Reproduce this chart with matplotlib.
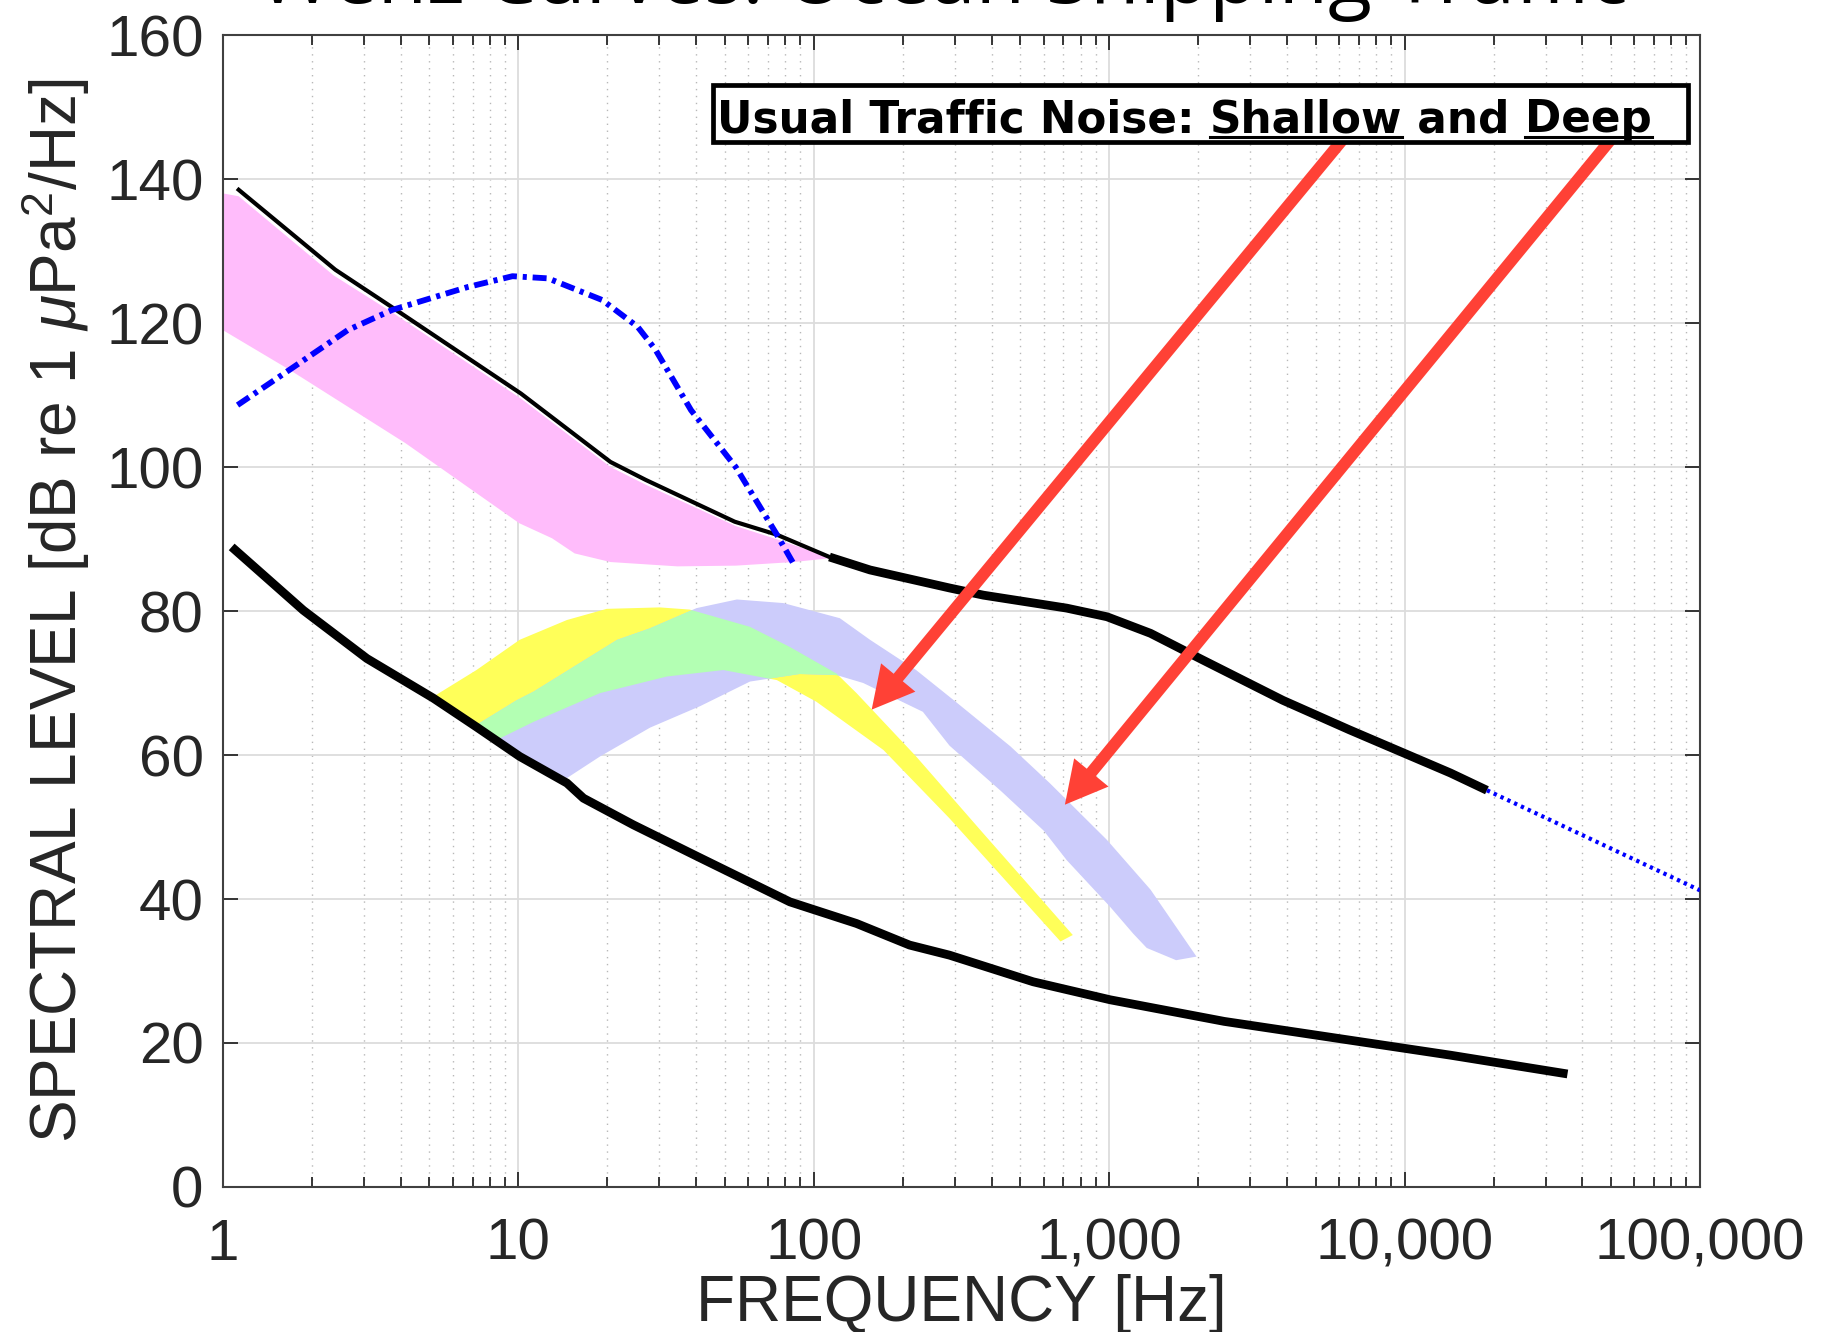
import numpy as np
import matplotlib
matplotlib.use("Agg")
import matplotlib.pyplot as plt
from matplotlib.patches import Polygon, Rectangle
from matplotlib.lines import Line2D
from matplotlib.ticker import FixedLocator, LogLocator, NullFormatter

# upper limit of prevailing noise (thin part up to ~110 Hz, thick part after)
f_upper = [1.13, 2.4, 3.7, 10.2, 20.5, 27, 54, 75, 113, 155, 288, 375, 718, 983,
           1380, 2050, 3870, 6500, 14300, 19000]
L_upper = [138.5, 127.4, 122.3, 110.2, 100.7, 98.2, 92.4, 90.6, 87.5, 85.7, 83.2,
           82.2, 80.4, 79.2, 76.9, 73.3, 67.6, 63.5, 57.5, 55.1]

# extrapolation of the upper limit
f_upper_ext = [19000, 100000]
L_upper_ext = [55.1, 41.2]

# lower limit of prevailing noise
f_lower = [1.07, 1.87, 3.07, 5.15, 7.21, 10.1, 14.6, 16.6, 24.5, 41.3, 83.0, 139.5,
           211, 288, 553, 1008, 2452, 14340, 35600]
L_lower = [88.9, 80.1, 73.4, 67.9, 63.9, 59.8, 56.1, 54.0, 50.3, 45.7, 39.6, 36.6,
           33.6, 32.2, 28.5, 26.0, 23.0, 18.3, 15.7]

# blue dash-dot curve
f_blue = [1.12, 1.68, 2.64, 3.73, 6.74, 9.55, 12.6, 19.2, 25.3, 29.1, 38.4, 54.4,
          74.5, 85.3]
L_blue = [108.6, 113.5, 119.0, 121.8, 125.0, 126.5, 126.2, 123.2, 119.5, 116.3,
          107.9, 100.0, 90.8, 86.6]

# pink band
pink_f_top = [1.0, 1.13, 2.37, 3.73, 10.2, 20.5, 27.1, 54.4, 74.5, 118]
pink_L_top = [138.0, 137.6, 126.6, 121.5, 109.5, 100.0, 97.5, 91.8, 90.0, 87.2]
pink_f_bot = [1.0, 1.68, 4.15, 10.06, 13.0, 15.5, 20.5, 34.5, 54.4, 85.3, 118]
pink_L_bot = [119.0, 113.5, 103.3, 92.2, 90.1, 88.0, 86.8, 86.2, 86.3, 86.8, 87.4]

# shallow water traffic band (yellow)
shallow_f_top = [5.15, 7.21, 10.1, 14.6, 19.9, 30.1, 38.0, 60.8, 83.0, 119.5, 139.5,
                 222, 375, 753]
shallow_L_top = [68.1, 71.8, 76.0, 78.75, 80.3, 80.5, 80.2, 77.8, 75.0, 71.3, 68.6,
                 59.8, 49.1, 35.0]
shallow_f_bot = [5.15, 7.21, 8.45, 11.25, 18.9, 31.8, 49.4, 75, 102, 172, 288, 684]
shallow_L_bot = [67.9, 63.9, 62.1, 64.6, 68.6, 70.9, 71.8, 70.4, 67.4, 60.7, 51.2, 34.1]

# deep water traffic band (lavender)
deep_f_top = [7.03, 9.86, 11.25, 21.6, 27.9, 40.1, 54.9, 78.9, 122.5, 155, 222, 300,
              463, 629, 983, 1380, 1975]
deep_L_top = [63.9, 67.6, 68.8, 76.0, 77.6, 80.4, 81.6, 81.1, 79.0, 76.0, 71.8, 67.5,
              61.2, 56.1, 48.2, 41.3, 32.0]
deep_f_bot = [7.03, 10.1, 14.6, 18.9, 27.9, 41.3, 60.8, 89.5, 119.5, 147, 234, 288,
              430, 600, 718, 1008, 1205, 1340, 1685]
deep_L_bot = [63.9, 59.8, 56.8, 59.8, 63.8, 66.8, 70.2, 71.25, 71.1, 70.0, 66.0, 61.3,
              55.0, 49.5, 45.4, 38.9, 35.2, 33.2, 31.5]

# arrows: (tail, tip)
arrow_shallow = ((6237, 145.7), (157, 66.3))
arrow_deep = ((50400, 145.7), (708, 53.1))

xtick_vals = [1, 10, 100, 1000, 10000, 100000]
xtick_labels = ["1", "10", "100", "1,000", "10,000", "100,000"]
ytick_vals = [0, 20, 40, 60, 80, 100, 120, 140, 160]

plt.rcParams["font.family"] = ["Liberation Sans", "DejaVu Sans"]
plt.rcParams["mathtext.fontset"] = "custom"
plt.rcParams["mathtext.it"] = "Liberation Sans:italic"
plt.rcParams["mathtext.rm"] = "Liberation Sans"

fig = plt.figure(figsize=(18.3, 13.32), dpi=100)
ax = fig.add_axes([0.12186, 0.10886, 0.80710, 0.86486])
ax.set_xscale("log")
ax.set_xlim(1, 100000)
ax.set_ylim(0, 160)

# grid
ax.set_axisbelow(True)
ax.grid(which="major", color="#dcdcdc", lw=1.3, ls="-")
ax.grid(which="minor", axis="x", color="#b8b8b8", lw=1.0, ls=(0, (1, 4)))
ax.grid(which="minor", axis="y", visible=False)

def band(f_top, L_top, f_bot, L_bot):
    verts = list(zip(f_top, L_top)) + list(zip(f_bot, L_bot))[::-1]
    return verts

pink = Polygon(band(pink_f_top, pink_L_top, pink_f_bot, pink_L_bot),
               closed=True, facecolor="#ffbcfb", edgecolor="none", zorder=2)
ax.add_patch(pink)

yellow = Polygon(band(shallow_f_top, shallow_L_top, shallow_f_bot, shallow_L_bot),
                 closed=True, facecolor="#ffff59", edgecolor="none", zorder=2)
ax.add_patch(yellow)
deep_verts = band(deep_f_top, deep_L_top, deep_f_bot, deep_L_bot)
lav = Polygon(deep_verts, closed=True, facecolor="#ccccfb", edgecolor="none", zorder=2.1)
ax.add_patch(lav)
# where shallow and deep bands overlap
green = Polygon(deep_verts, closed=True, facecolor="#b3ffb3", edgecolor="none", zorder=2.2)
ax.add_patch(green)
green.set_clip_path(yellow)

# noise limits
n_thin = f_upper.index(113) + 1
ax.plot(f_upper[:n_thin], L_upper[:n_thin], color="black", lw=3.0, zorder=3)
ax.plot(f_upper[n_thin - 1:], L_upper[n_thin - 1:], color="black", lw=6.3,
        solid_capstyle="butt", solid_joinstyle="round", zorder=3)
ax.plot(f_lower, L_lower, color="black", lw=6.3, solid_capstyle="butt",
        solid_joinstyle="round", zorder=3)
ax.plot(f_upper_ext, L_upper_ext, color="#0000ff", lw=3.0, ls=(0, (0.8, 1.0)), zorder=3)
ax.plot(f_blue, L_blue, color="#0000ff", lw=4.2, ls=(0, (2.4, 1.0, 0.7, 1.0)), zorder=4)

# arrows
for tail, tip in (arrow_shallow, arrow_deep):
    ax.annotate("", xy=tip, xytext=tail,
                arrowprops=dict(facecolor="#ff4136", edgecolor="none", width=8.5,
                                headwidth=32, headlength=30, shrink=0), zorder=5)

# label box
box = Rectangle((0.332, 0.907), 0.660, 0.050, transform=ax.transAxes,
                facecolor="white", edgecolor="black", lw=3.4, zorder=6)
ax.add_patch(box)
parts = ["Usual Traffic Noise: ", "Shallow", " and ", "Deep"]
tprops = dict(fontsize=31.5, fontweight="bold", family="DejaVu Sans", zorder=7)
t0 = ax.text(0.3345, 0.9155, parts[0], transform=ax.transAxes, va="baseline", **tprops)
pieces = [t0]
for p in parts[1:]:
    t = ax.annotate(p, xy=(1, 0), xycoords=pieces[-1], xytext=(0, 0),
                    textcoords="offset points", ha="left", va="bottom", **tprops)
    pieces.append(t)

# axes styling
ax.xaxis.set_major_locator(FixedLocator(xtick_vals))
ax.set_xticklabels(xtick_labels)
ax.xaxis.set_minor_locator(LogLocator(base=10, subs=np.arange(2, 10)))
ax.xaxis.set_minor_formatter(NullFormatter())
ax.set_yticks(ytick_vals)
ax.tick_params(which="both", direction="in", top=True, right=True, colors="#262626",
               labelsize=42, width=1.3)
ax.tick_params(which="major", length=11)
ax.tick_params(which="minor", length=7)
ax.tick_params(axis="x", pad=22)
ax.tick_params(axis="y", pad=14)
for s in ax.spines.values():
    s.set_color("#404040")
    s.set_linewidth(1.5)

ax.set_xlabel("FREQUENCY [Hz]", fontsize=46, color="#262626", labelpad=2)
ax.set_ylabel(r"SPECTRAL LEVEL [dB re 1 $\mu$Pa$^2$/Hz]", fontsize=46, color="#262626",
              labelpad=10)

fig.text(0.515, 0.9978, "Wenz Curves: Ocean Shipping Traffic", ha="center",
         va="baseline", fontsize=58, family=["Open Sans", "DejaVu Sans"], color="black")

# underline "Shallow" and "Deep"
fig.canvas.draw()
inv = fig.transFigure.inverted()
for t in (pieces[1], pieces[3]):
    bb = t.get_window_extent()
    (x0, y0), (x1, y1) = inv.transform([(bb.x0, bb.y0), (bb.x1, bb.y0)])
    y_line = y0 + 0.0035
    fig.add_artist(Line2D([x0, x1], [y_line, y_line], transform=fig.transFigure,
                          color="black", lw=2.2, zorder=8))

fig.savefig("out.png", dpi=100)
